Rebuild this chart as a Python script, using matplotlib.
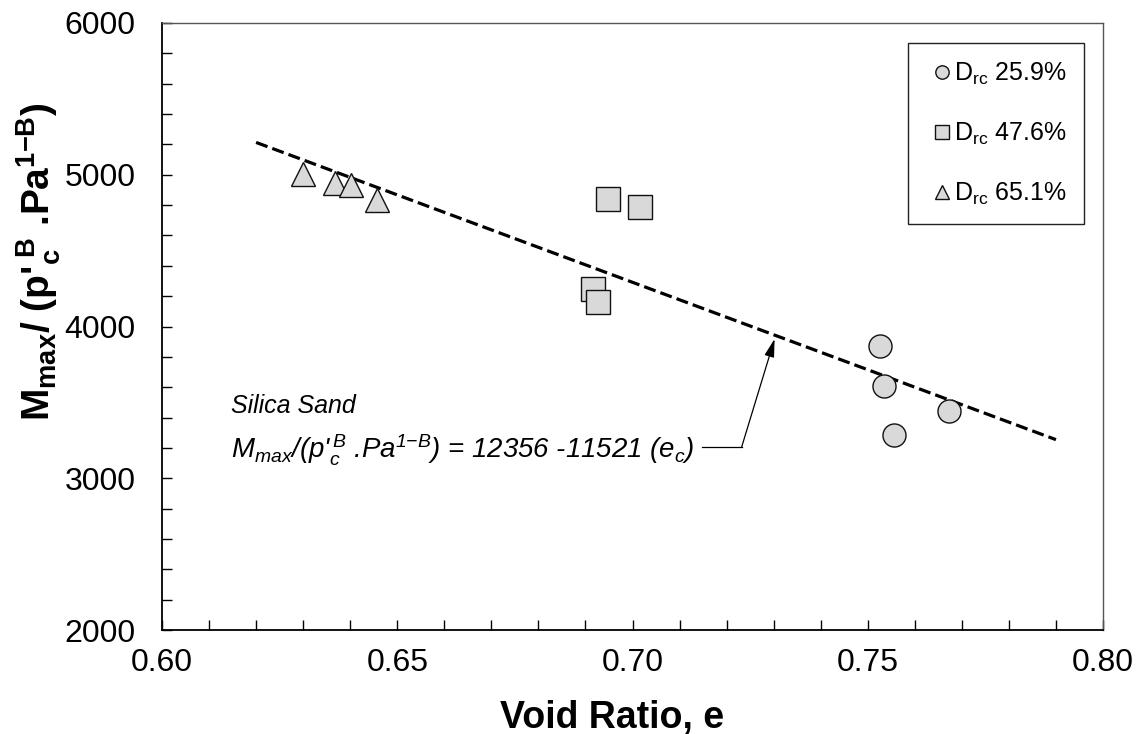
import matplotlib
matplotlib.use("Agg")
import matplotlib.pyplot as plt
from matplotlib.ticker import MultipleLocator, FormatStrFormatter

plt.rcParams["font.family"] = ["Liberation Sans", "DejaVu Sans"]
plt.rcParams["mathtext.fontset"] = "custom"
plt.rcParams["mathtext.rm"] = "Liberation Sans:italic"
plt.rcParams["mathtext.it"] = "Liberation Sans:italic"
plt.rcParams["mathtext.bf"] = "Liberation Sans:bold"
plt.rcParams["mathtext.sf"] = "Liberation Sans"

# Measured points: void ratio vs normalised maximum stress ratio
e_259 = [0.7525, 0.7535, 0.7673, 0.7555]
m_259 = [3872, 3608, 3445, 3285]

e_476 = [0.6947, 0.7015, 0.6917, 0.6927]
m_476 = [4837, 4788, 4245, 4159]

e_651 = [0.6299, 0.6367, 0.6401, 0.6458]
m_651 = [5002, 4946, 4933, 4834]

series_labels = [r"D$_{\mathsf{rc}}$ 25.9%", r"D$_{\mathsf{rc}}$ 47.6%", r"D$_{\mathsf{rc}}$ 65.1%"]

# Linear fit M/(p'^B Pa^(1-B)) = a + b e
fit_a = 12356
fit_b = -11521
fit_e = [0.62, 0.79]

x_ticks = [0.60, 0.65, 0.70, 0.75, 0.80]
y_ticks = [2000, 3000, 4000, 5000, 6000]

fig = plt.figure(figsize=(11.43, 7.34), dpi=100)
ax = fig.add_axes([162 / 1143, 1 - 630 / 734, (1103 - 162) / 1143, (630 - 23) / 734])

fill = "#d9d9d9"
ms = 16.6
common = dict(linestyle="none", markerfacecolor=fill, markeredgecolor="#111111",
              markeredgewidth=1.0, markersize=ms)
ax.plot(e_259, m_259, marker="o", label=series_labels[0], **common)
ax.plot(e_476, m_476, marker="s", label=series_labels[1], **common)
ax.plot(e_651, m_651, marker="^", label=series_labels[2], **common)

fit_m = [fit_a + fit_b * e for e in fit_e]
fit_line, = ax.plot(fit_e, fit_m, color="black", linewidth=2.3, zorder=1.5)
fit_line.set_dashes([3.8, 1.6])

ax.set_xlim(x_ticks[0], x_ticks[-1])
ax.set_ylim(y_ticks[0], y_ticks[-1])
ax.set_xticks(x_ticks)
ax.set_yticks(y_ticks)
ax.xaxis.set_major_formatter(FormatStrFormatter("%.2f"))
ax.xaxis.set_minor_locator(MultipleLocator(0.01))
ax.yaxis.set_minor_locator(MultipleLocator(200))
ax.tick_params(which="both", direction="in", top=False, right=False,
               length=7, width=1.0, labelsize=23)
ax.tick_params(axis="y", pad=19)
ax.tick_params(axis="x", pad=13)

for side in ("left", "bottom"):
    ax.spines[side].set_color("black")
    ax.spines[side].set_linewidth(1.3)
for side in ("top", "right"):
    ax.spines[side].set_color("#555555")
    ax.spines[side].set_linewidth(1.0)

ax.set_xlabel("Void Ratio, e", fontsize=27, fontweight="bold")
ax.xaxis.set_label_coords(0.478, -0.115)
ax.set_ylabel(r"M$_{\mathbf{max}}$/ (p'$_{\mathbf{c}}^{\ \mathbf{B}}$ .Pa$^{\mathbf{1{-}B}}$)",
              fontsize=28, fontweight="bold")
ax.yaxis.set_label_coords(-0.105, 0.606)

# Annotation for the fitted relation
ax.text(0.6146, 3430, "Silica Sand", fontsize=18, style="italic", ha="left", va="baseline")
ax.text(0.6146, 3133,
        r"M$_{max}$/(p'$_c^{\,B}$ .Pa$^{1{-}B}$) = 12356 -11521 (e$_c$)",
        fontsize=19.9, style="italic", ha="left", va="baseline")
ax.plot([0.7147, 0.7232], [3206, 3206], color="black", linewidth=0.9)
ax.annotate("", xy=(0.7302, 3918), xytext=(0.7232, 3206),
            arrowprops=dict(arrowstyle="-|>,head_length=1.1,head_width=0.3",
                            mutation_scale=10, color="black", linewidth=0.9,
                            shrinkA=0, shrinkB=0))

leg = ax.legend(loc="upper right", bbox_to_anchor=(0.980, 0.967), borderaxespad=0,
                fontsize=18, markerscale=0.58, frameon=True, fancybox=False,
                edgecolor="#222222", framealpha=1, handlelength=1.3,
                handletextpad=-0.15, labelspacing=1.35, borderpad=0.7)
leg.get_frame().set_linewidth(1.0)

fig.savefig("out.png", dpi=100)
